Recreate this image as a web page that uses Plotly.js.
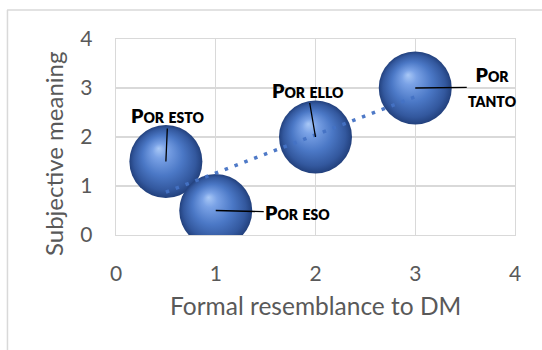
<!DOCTYPE html>
<html>
<head>
<meta charset="utf-8">
<script src="https://cdn.plot.ly/plotly-3.0.1.min.js"></script>
<style>
  html, body { margin: 0; padding: 0; background: #ffffff; }
  #chart { width: 542px; height: 350px; }
</style>
</head>
<body>
<div id="chart"></div>
<script>
// Discourse markers: formal resemblance vs. subjective meaning
const markers = ['Por esto', 'Por eso', 'Por ello', 'Por tanto'];
const resemblance = [0.5, 1, 2, 3];
const subjective = [1.5, 0.5, 2, 3];
const tickValues = [0, 1, 2, 3, 4];
const xTitle = 'Formal resemblance to DM';
const yTitle = 'Subjective meaning';

// Label placement (pixel offsets of each label from its bubble)
const labelOffsets = [[2, -46], [82, 2], [-8, -47], [77, -1]];
const labelText = ['Por esto', 'Por eso', 'Por ello', 'Por<br>tanto'];

// Least-squares linear trend through the bubbles
function linearFit(xs, ys) {
  const n = xs.length;
  const mx = xs.reduce((a, b) => a + b, 0) / n;
  const my = ys.reduce((a, b) => a + b, 0) / n;
  let sxy = 0, sxx = 0;
  for (let i = 0; i < n; i++) {
    sxy += (xs[i] - mx) * (ys[i] - my);
    sxx += (xs[i] - mx) * (xs[i] - mx);
  }
  const slope = sxy / sxx;
  return { slope: slope, intercept: my - slope * mx };
}
const fit = linearFit(resemblance, subjective);
const trendX = [Math.min(...resemblance), Math.max(...resemblance)];
const trendY = trendX.map(v => fit.intercept + fit.slope * v);

const grey = '#595959';
const gridColor = '#d9d9d9';
const font = 'Lato, "Open Sans", sans-serif';

const bubbles = {
  type: 'scatter',
  mode: 'markers',
  x: resemblance,
  y: subjective,
  text: markers,
  hoverinfo: 'text',
  marker: {
    size: 73,
    color: '#243f7c',
    line: { width: 0 },
    gradient: { type: 'radial', color: '#a6c6f5' }
  },
  showlegend: false
};

const trend = {
  type: 'scatter',
  mode: 'lines',
  x: trendX,
  y: trendY,
  hoverinfo: 'skip',
  line: { color: '#4472c4', width: 3.5, dash: '3.5px,7px' },
  opacity: 0.95,
  showlegend: false
};

const labels = markers.map((m, i) => ({
  x: resemblance[i],
  y: subjective[i],
  xref: 'x',
  yref: 'y',
  text: labelText[i],
  showarrow: true,
  arrowhead: 0,
  arrowwidth: 1.3,
  arrowcolor: '#000000',
  standoff: 0,
  startstandoff: 0,
  ax: labelOffsets[i][0],
  ay: labelOffsets[i][1],
  font: { family: font, size: 19.5, color: '#000000', weight: 800, variant: 'small-caps' },
  align: 'center'
}));

const axisTitles = [
  {
    xref: 'paper', yref: 'paper', x: 0.5, y: -0.362,
    xanchor: 'center', yanchor: 'middle', showarrow: false,
    text: xTitle,
    font: { family: font, size: 24.5, color: grey }
  },
  {
    xref: 'paper', yref: 'paper', x: -0.158, y: 0.418,
    xanchor: 'center', yanchor: 'middle', showarrow: false,
    textangle: -90,
    text: yTitle,
    font: { family: font, size: 24, color: grey }
  }
];

const axisCommon = {
  range: [0, 4],
  tickvals: tickValues,
  ticktext: tickValues.map(String),
  ticks: '',
  showgrid: true,
  gridcolor: gridColor,
  gridwidth: 1.3,
  zeroline: false,
  showline: true,
  linecolor: gridColor,
  linewidth: 1.3,
  mirror: true,
  tickfont: { family: font, size: 21, color: grey },
  fixedrange: true
};

const layout = {
  width: 542,
  height: 350,
  margin: { l: 116, r: 27, t: 39, b: 115 },
  paper_bgcolor: '#ffffff',
  plot_bgcolor: '#ffffff',
  xaxis: Object.assign({}, axisCommon, { ticklabelstandoff: 19 }),
  yaxis: Object.assign({}, axisCommon, { ticklabelstandoff: 18 }),
  annotations: labels.concat(axisTitles),
  shapes: [
    { type: 'line', xref: 'paper', yref: 'paper', x0: -0.273, x1: 1.1, y0: 1.148, y1: 1.148,
      line: { color: gridColor, width: 1.5 }, layer: 'below' },
    { type: 'line', xref: 'paper', yref: 'paper', x0: -0.272, x1: -0.272, y0: 1.148, y1: -0.6,
      line: { color: gridColor, width: 1.5 }, layer: 'below' }
  ]
};

// Give the radial fill an off-centre highlight so the bubbles read as spheres
function shadeSpheres(gd) {
  gd.querySelectorAll('radialGradient').forEach(g => {
    g.setAttribute('cx', '0.5');
    g.setAttribute('cy', '0.5');
    g.setAttribute('r', '0.5');
    g.setAttribute('fx', '0.4');
    g.setAttribute('fy', '0.32');
    while (g.firstChild) g.removeChild(g.firstChild);
    [[0, '#a9c8f6'], [0.2, '#7aa2e6'], [0.55, '#4b78c6'], [0.85, '#33589e'], [1, '#22407c']]
      .forEach(([o, c]) => {
        const s = document.createElementNS('http://www.w3.org/2000/svg', 'stop');
        s.setAttribute('offset', (o * 100) + '%');
        s.setAttribute('stop-color', c);
        g.appendChild(s);
      });
  });
}

const gd = document.getElementById('chart');
Plotly.newPlot(gd, [bubbles, trend], layout, { displayModeBar: false, staticPlot: true })
  .then(() => {
    shadeSpheres(gd);
    gd.on && gd.on('plotly_afterplot', () => shadeSpheres(gd));
  });
</script>
</body>
</html>
